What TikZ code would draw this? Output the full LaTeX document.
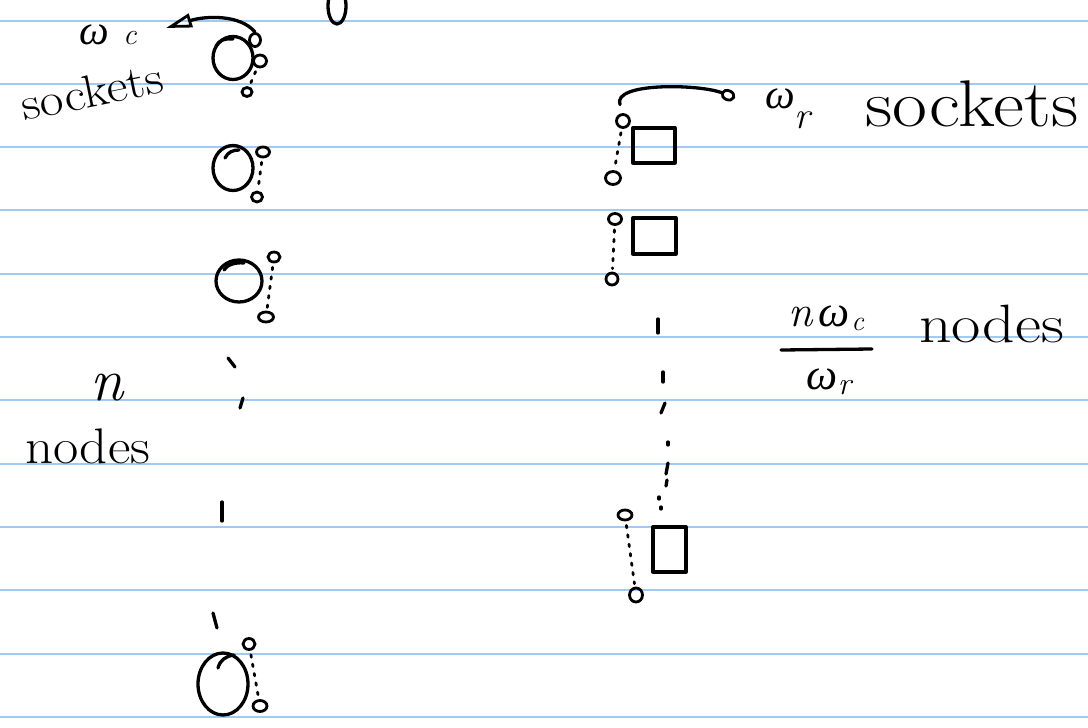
\documentclass[tikz,border=0pt]{standalone}
\usepackage{fontspec}
\usepackage{graphicx}
\newfontfamily\grk{Liberation Serif}
\usetikzlibrary{shapes.geometric,arrows.meta}
\definecolor{ruled}{RGB}{160,202,242}
\newcommand\setfs[1]{\fontsize{#1}{#1}\selectfont}
\newcommand\om{{\grk\itshape ω}}
\begin{document}
\begin{tikzpicture}[x=1pt,y=-1pt,
  ink/.style={line width=3.3pt,line cap=round,line join=round,draw=black},
  comp/.style={ellipse,draw,ink,inner sep=0pt},
  sock/.style={ellipse,draw,line width=2.8pt,inner sep=0pt,minimum width=12pt,minimum height=10pt},
  rack/.style={rectangle,draw,ink,inner sep=0pt},
  dotlink/.style={line width=2.8pt,line cap=round,dash pattern=on 2.5pt off 7pt,shorten >=3pt,shorten <=4pt},
  hand/.style={inner sep=0pt,text=black},
  rule/.style={draw=ruled,line width=2pt}]
\fill[white] (0,0) rectangle (1088,728);
\useasboundingbox (0,0) rectangle (1088,728);
\foreach \k in {0,...,11} \draw[rule] (0,{20.5+63.3*\k}) -- (1088,{20.5+63.3*\k});

% stray oval at top
\draw[ink] (337,6) ellipse [x radius=9pt, y radius=18pt];

% ---------- left column: n nodes ----------
\node[comp,minimum width=40pt,minimum height=43pt] (c1) at (233,58) {};
\node[sock,minimum width=11pt,minimum height=13pt] (s1a) at (255,40) {};
\node[sock,minimum width=13pt,minimum height=12pt] (s1b) at (260,61) {};
\node[sock,minimum width=10pt,minimum height=9pt] (s1c) at (247,92) {};
\draw[dotlink] (s1b) -- (s1c);
\draw[ink] (216,46) .. controls (219,40) and (226,38) .. (233,39);

\node[comp,minimum width=40pt,minimum height=45pt] (c2) at (233,168) {};
\node[sock,minimum width=13pt,minimum height=10pt] (s2a) at (263,152) {};
\node[sock,minimum width=11pt,minimum height=10pt] (s2b) at (257,197) {};
\draw[dotlink] (s2a) -- (s2b);
\draw[ink] (225,158) .. controls (228,152) and (233,150) .. (239,150);

\node[comp,minimum width=46pt,minimum height=42pt] (c3) at (239,281) {};
\node[sock,minimum width=12pt,minimum height=10pt] (s3a) at (274,257) {};
\node[sock,minimum width=15pt,minimum height=10pt] (s3b) at (266,317) {};
\draw[dotlink] (s3a) -- (s3b);
\draw[ink] (224,270) .. controls (227,265) and (235,262) .. (244,263);

\draw[ink] (228,358) -- (235,367);
\draw[ink] (243,398) -- (240,408);
\draw[ink] (222,502) -- (222,521);
\draw[ink] (213,613) -- (217,628);

\node[comp,minimum width=50pt,minimum height=62pt] (c4) at (223,684) {};
\node[sock,minimum width=12pt,minimum height=11pt] (s4a) at (249,644) {};
\node[sock,minimum width=14pt,minimum height=11pt] (s4b) at (260,706) {};
\draw[dotlink] (s4a) -- (s4b);
\draw[ink] (218,668) .. controls (220,660) and (226,656) .. (234,655);

% left arrow to label
\coordinate (ltip) at (166,28);
\draw[ink,-{Triangle[open,length=26pt,width=14pt,line width=2.8pt]}] (s1a.north) .. controls (240,14) and (205,16) .. (ltip);

% left labels
\node[hand,anchor=base] (wc) at (108,45) {\setfs{42}\om\hspace{14pt}{\setfs{30}\itshape c}};
\node[hand,rotate=11.5] (lsock) at (92,91) {\setfs{46}\scalebox{1.12}[1]{sockets}};
\node[hand,anchor=base] (nn) at (107,400) {\setfs{60}\itshape n};
\node[hand,anchor=base west] (lnodes) at (25,463) {\setfs{50}\scalebox{1.1}[1]{nodes}};

% ---------- right column ----------
\node[rack,minimum width=42pt,minimum height=35pt] (R1) at (654,145.5) {};
\node[sock,minimum width=13pt,minimum height=13pt] (r1a) at (623,121) {};
\node[sock,minimum width=15pt,minimum height=13pt] (r1b) at (613,178) {};
\draw[dotlink] (r1a) -- (r1b);

\node[rack,minimum width=43pt,minimum height=36pt] (R2) at (654.5,236) {};
\node[sock,minimum width=13pt,minimum height=11pt] (r2a) at (615,219) {};
\node[sock,minimum width=12pt,minimum height=12pt] (r2b) at (612,279) {};
\draw[dotlink] (r2a) -- (r2b);

\draw[ink] (658,319) -- (658,333);
\draw[ink] (663,372) -- (663,382);
\draw[ink] (665,403) -- (661,413);
\draw[ink] (668,442) -- (668,445);
\draw[ink] (668,463) -- (666,474);
\draw[ink] (667,480) -- (666,486);
\draw[ink] (659,497) -- (659,499);
\draw[ink] (661,507) -- (661,509);

\node[rack,minimum width=33pt,minimum height=45pt] (R3) at (669.5,549.5) {};
\node[sock,minimum width=14pt,minimum height=10pt] (r3a) at (625,515) {};
\node[sock,minimum width=13pt,minimum height=14pt] (r3b) at (636,595) {};
\draw[dotlink] (r3a) -- (r3b);

% right arrow to label
\coordinate (rtip) at (735,98);
\draw[ink,shorten <=9pt,-{Circle[open,length=15pt,width=12pt,line width=2.8pt]}] (r1a.north) .. controls (612,82) and (700,84) .. (rtip);

% right labels
\node[hand,anchor=base west] (rsock) at (765,108) {\setfs{42}\om\raisebox{-20pt}{\setfs{38}\itshape r}\hspace{55pt}\raisebox{-18pt}{\setfs{66}\scalebox{1.15}[1]{sockets}}};
\node[hand,anchor=base] (fnum) at (826,326) {\setfs{44}{\itshape n}\hspace{6pt}\om\hspace{2pt}\raisebox{-4pt}{\setfs{28}\itshape c}};
\coordinate (barl) at (781,350);
\coordinate (barr) at (872,349);
\draw[ink] (barl) -- (barr);
\node[hand,anchor=base] (fden) at (829,389) {\setfs{44}\om\raisebox{-5pt}{\setfs{32}\itshape r}};
\node[hand,anchor=base west] (rnodes) at (919,342) {\setfs{54}\scalebox{1.18}[1]{nodes}};
\end{tikzpicture}
\end{document}
